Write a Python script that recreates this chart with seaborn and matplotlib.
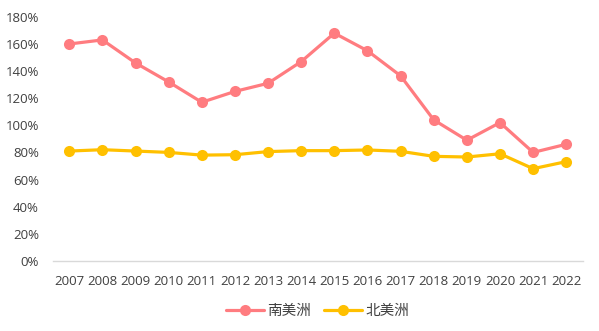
import matplotlib
matplotlib.use("Agg")
import matplotlib.pyplot as plt
import seaborn as sns
import pandas as pd
from matplotlib.ticker import FuncFormatter

years = list(range(2007, 2023))
south_america = [160, 163, 146, 132, 117, 125, 131, 147, 168, 155, 136.5, 104, 89, 102, 80, 86]
north_america = [81, 82, 81, 80, 78, 78.3, 80.6, 81.3, 81.3, 81.8, 80.8, 77.1, 76.6, 79, 68, 73.2]
series_names = ["南美洲", "北美洲"]
colors = ["#FF7C80", "#FFC000"]

df = pd.DataFrame({
    "year": years * 2,
    "value": south_america + north_america,
    "region": [series_names[0]] * len(years) + [series_names[1]] * len(years),
})

sns.set_theme(style="white")
plt.rcParams["font.family"] = ["Open Sans", "Noto Sans CJK SC", "DejaVu Sans"]

fig = plt.figure(figsize=(5.99, 3.31), dpi=100)
ax = fig.add_axes([0.088, 0.212, 0.885, 0.737])

sns.lineplot(data=df, x="year", y="value", hue="region", palette=colors,
             marker="o", markersize=8, markeredgewidth=0, linewidth=2.3,
             ax=ax, legend=True)

ax.set_ylim(0, 180)
ax.set_yticks(range(0, 181, 20))
ax.yaxis.set_major_formatter(FuncFormatter(lambda v, p: f"{int(v)}%"))
ax.set_xlim(2006.5, 2022.5)
ax.set_xticks(years)
ax.set_xticklabels([str(y) for y in years])
ax.set_xlabel("")
ax.set_ylabel("")
ax.tick_params(axis="both", length=0, labelsize=9.5, colors="#404040")
ax.tick_params(axis="x", pad=10)
ax.tick_params(axis="y", pad=10)
for s in ["top", "right", "left"]:
    ax.spines[s].set_visible(False)
ax.spines["bottom"].set_color("#D9D9D9")
ax.spines["bottom"].set_linewidth(1)
ax.grid(False)

handles, labels = ax.get_legend_handles_labels()
ax.legend(handles, labels, loc="upper center", bbox_to_anchor=(0.5, -0.125),
          ncol=2, frameon=False, handlelength=2.6,
          columnspacing=0.9, handletextpad=0.2,
          prop={"family": ["Noto Sans CJK SC", "DejaVu Sans"], "size": 10.5})
for t in ax.get_legend().get_texts():
    t.set_color("#404040")

fig.savefig("out.png", dpi=100, facecolor="white")
